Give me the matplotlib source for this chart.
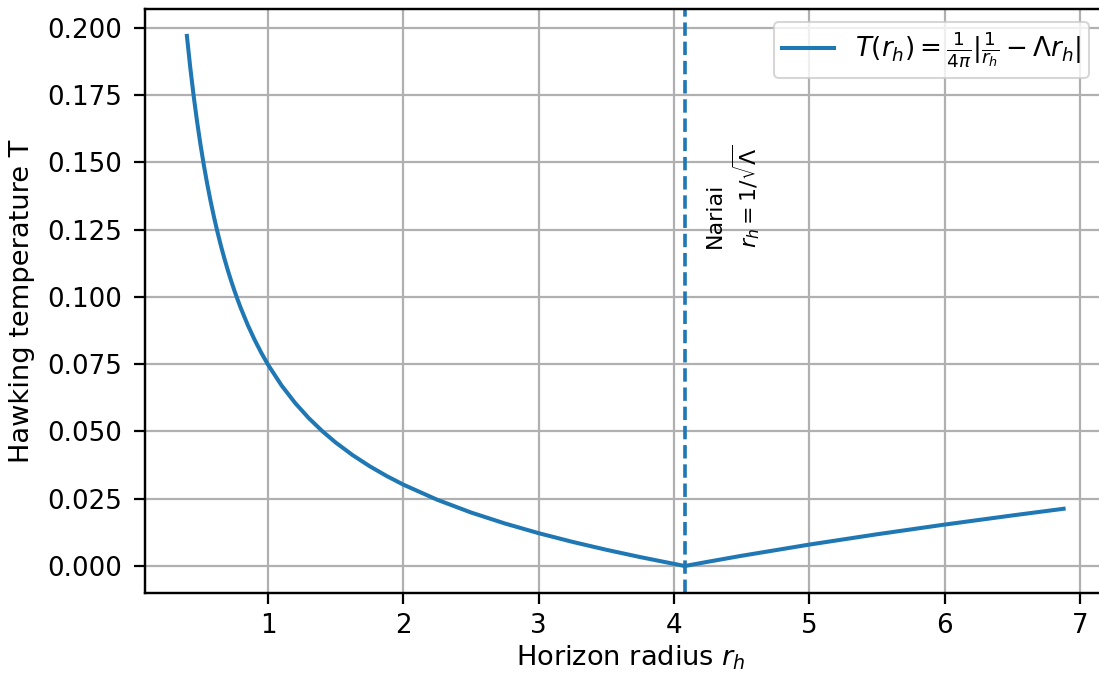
import matplotlib
matplotlib.use('Agg')
import numpy as np
import matplotlib.pyplot as plt

# valores
r_h = [0.400, 0.425, 0.450, 0.475, 0.500, 0.525, 0.550, 0.575, 0.600, 0.625,
       0.650, 0.675, 0.700, 0.725, 0.750, 0.775, 0.800, 0.850, 0.900, 0.950,
       1.00, 1.10, 1.20, 1.30, 1.40, 1.50, 1.625, 1.75, 1.875, 2.00,
       2.25, 2.50, 2.75, 3.00, 3.25, 3.50, 3.75, 4.00, 4.08, 4.25,
       4.50, 5.00, 5.50, 6.00, 6.50, 6.88]
T = [0.19703, 0.18521, 0.17469, 0.16526, 0.15677, 0.14907, 0.14206, 0.13565, 0.12976, 0.12434,
     0.11932, 0.11467, 0.11034, 0.10630, 0.10252, 0.09898, 0.09565, 0.08956, 0.08412, 0.07923,
     0.07480, 0.06709, 0.06059, 0.05501, 0.05016, 0.04589, 0.04121, 0.03712, 0.03349, 0.03024,
     0.02463, 0.01989, 0.01581, 0.01220, 0.00897, 0.00603, 0.00332, 0.00080, 0.00000, 0.00157,
     0.00380, 0.00796, 0.01179, 0.01539, 0.01879, 0.02128]
r_nariai = 4.082

dpi = 145
fig = plt.figure(figsize=(1099 / dpi, 677 / dpi), dpi=dpi)
ax = fig.add_axes([0.1319, 0.1248, 0.8753, 0.8613])

ax.plot(r_h, T, lw=2, label=r'$T(r_h) = \frac{1}{4\pi}|\frac{1}{r_h} - \Lambda r_h|$')
ax.axvline(r_nariai, color='C0', linestyle='--', lw=1.8)
ax.text(4.23, 0.1374, 'Nariai\n' + r'$r_h = 1/\sqrt{\Lambda}$', rotation=90,
        ha='left', va='center', fontsize=11)

ax.set_xlim(0.09, 7.2)
ax.tick_params(labelsize=13, length=5.5, width=1.1)
ax.tick_params(axis='y', pad=6)
ax.tick_params(axis='x', pad=4.5)
for s in ax.spines.values():
    s.set_linewidth(1.2)
ax.spines['right'].set_visible(False)

ax.set_xlabel(r'Horizon radius $r_h$', fontsize=13.5)
ax.set_ylabel('Hawking temperature T', fontsize=13.5)
ax.xaxis.set_label_coords(0.5 + (631 - 626) / 962, -0.0866)
ax.yaxis.set_label_coords(-0.1143, 0.5)
ax.grid(True, lw=1.1)
ax.legend(loc='upper right', bbox_to_anchor=(1089 / 1099, (677 - 22) / 677),
          bbox_transform=fig.transFigure, fontsize=13, borderaxespad=0,
          borderpad=0.3)

fig.savefig('out.png', dpi=dpi)
